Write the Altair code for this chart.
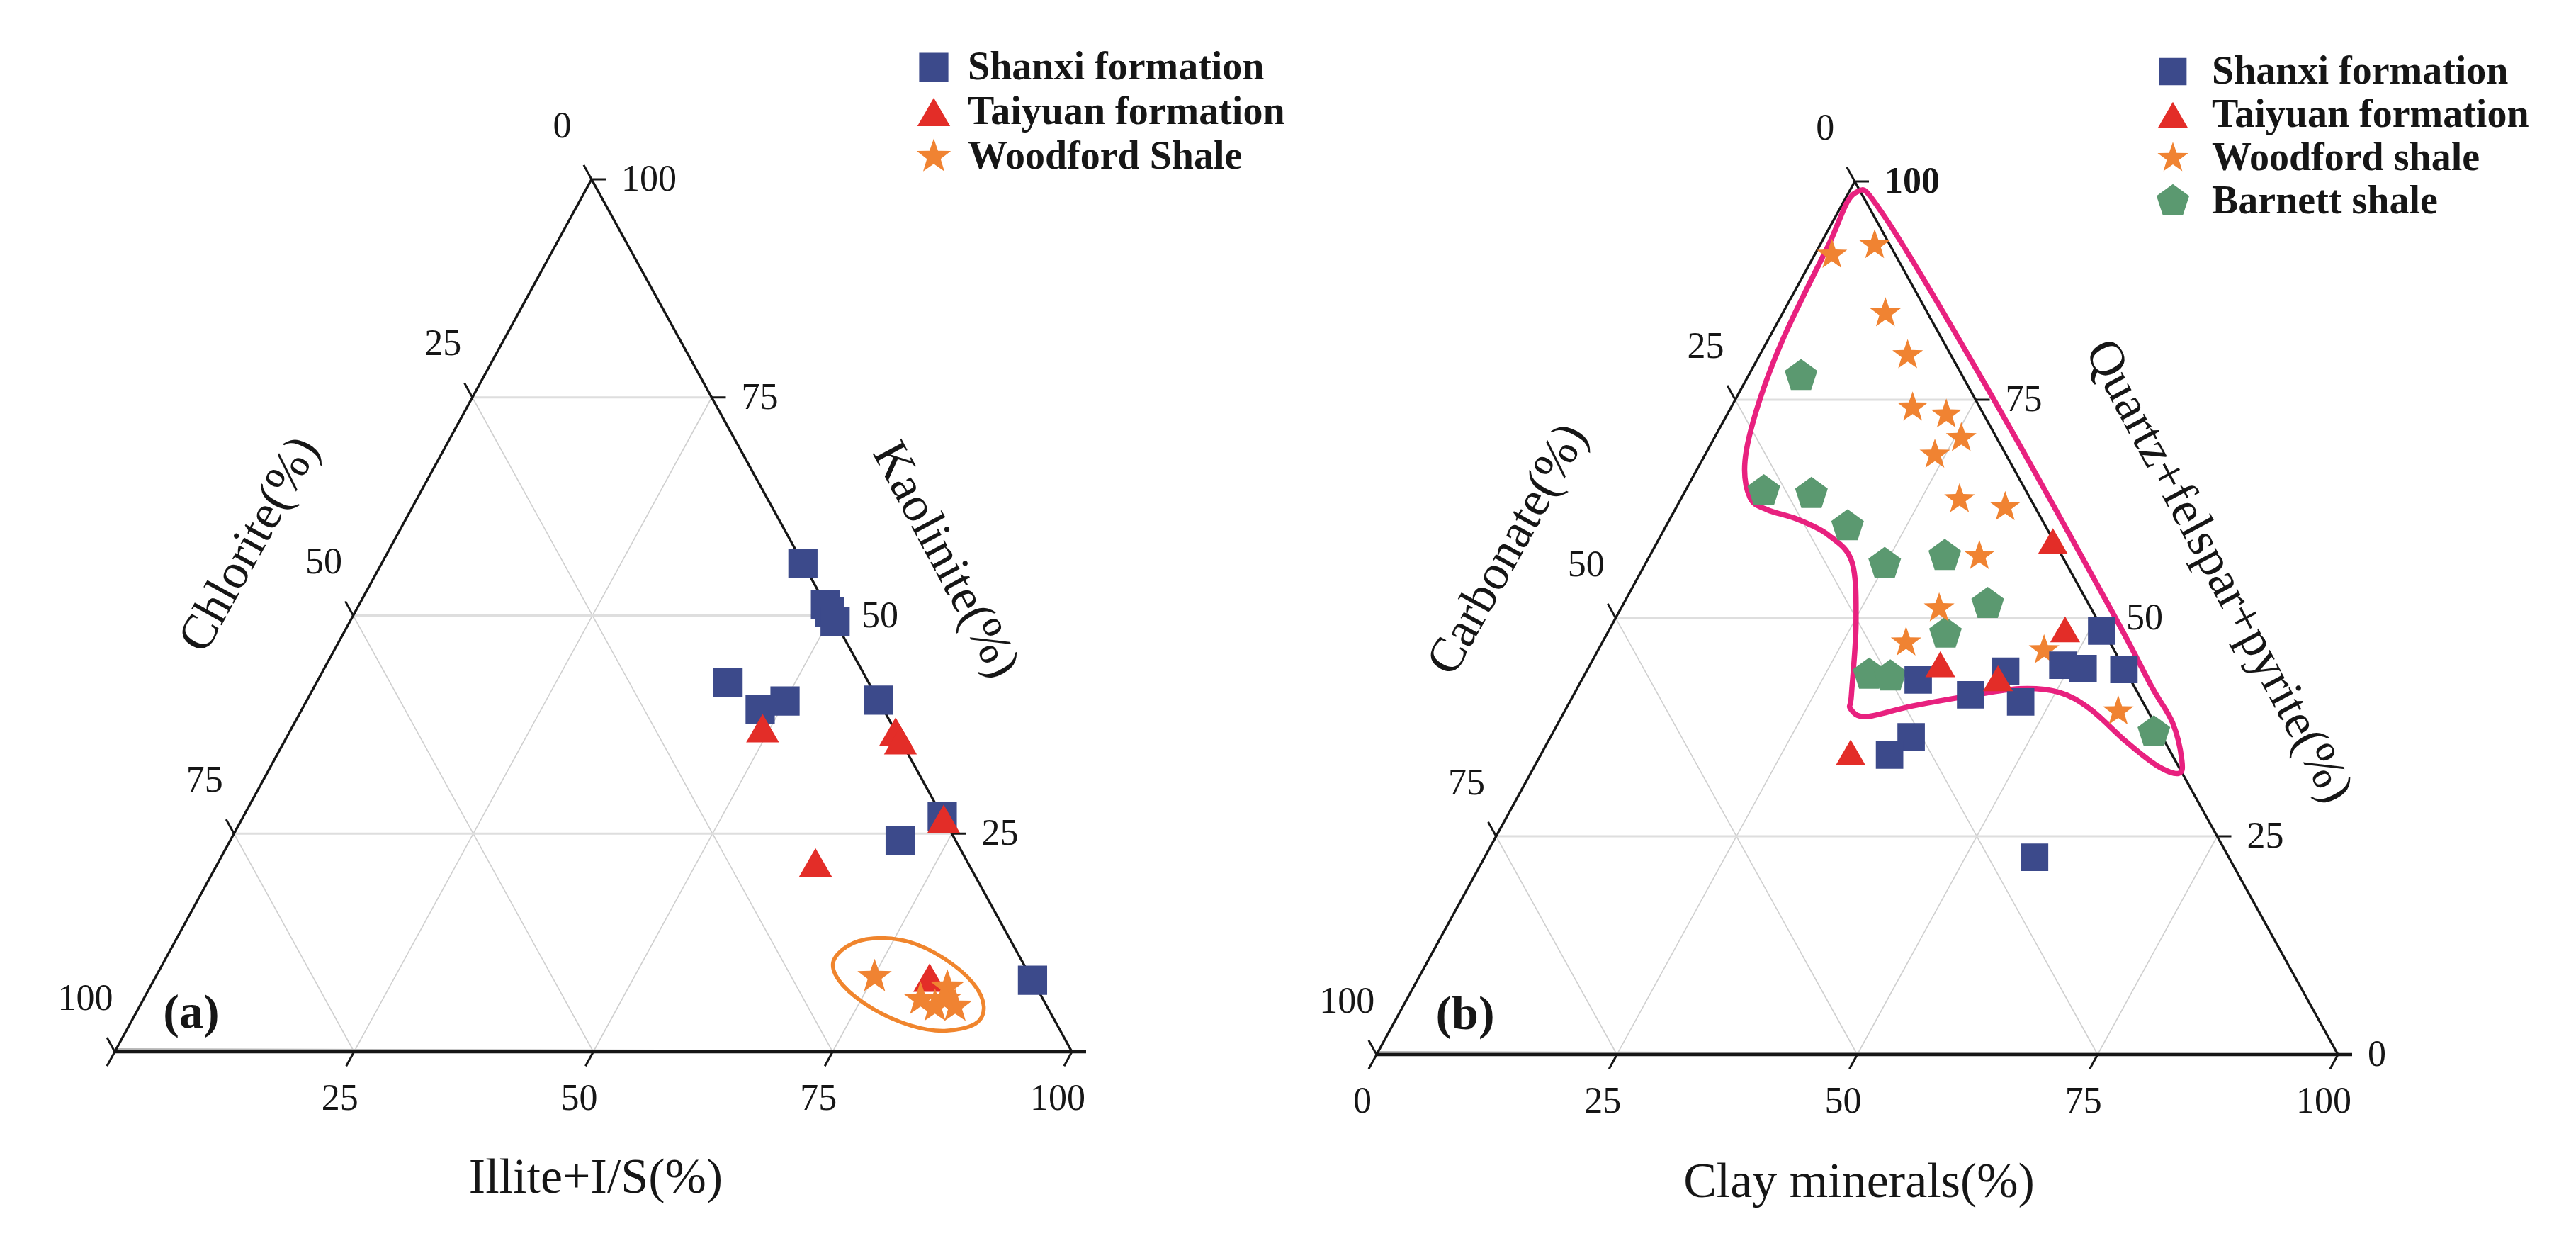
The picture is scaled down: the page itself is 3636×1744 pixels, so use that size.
import math
import altair as alt
import pandas as pd

# ---------------------------------------------------------------------------
# DATA (percentages)
# Panel (a): Kaolinite (apex) / Illite+I/S (bottom-right) / Chlorite (bottom-left)
a_series = ["Shanxi formation", "Taiyuan formation", "Woodford Shale"]

a_shanxi_kaolinite = [56.0, 51.3, 50.4, 49.3, 42.3, 39.2, 40.2, 40.3, 27.0, 24.2, 8.2]
a_shanxi_illite    = [44.0, 48.7, 49.6, 50.7, 43.0, 47.9, 50.0, 59.7, 73.0, 70.0, 91.8]
a_shanxi_chlorite  = [0.0, 0.0, 0.0, 0.0, 14.7, 12.9, 9.8, 0.0, 0.0, 5.8, 0.0]

a_taiyuan_kaolinite = [37.1, 36.7, 35.7, 26.7, 21.7, 8.5]
a_taiyuan_illite    = [49.2, 63.3, 64.3, 73.3, 62.4, 80.9]
a_taiyuan_chlorite  = [13.7, 0.0, 0.0, 0.0, 15.9, 10.6]

a_woodford_kaolinite = [8.6, 6.0, 5.2, 7.4, 5.2, 6.0]
a_woodford_illite    = [75.1, 81.2, 83.1, 83.3, 85.2, 83.7]
a_woodford_chlorite  = [16.3, 12.8, 11.7, 9.3, 9.6, 10.3]

# orange outline around the Woodford samples (a)
a_ring_kaolinite = [10.1, 12.1, 13.0, 12.6, 10.7, 7.9, 5.2, 3.2, 2.4, 3.0, 4.9, 7.6]
a_ring_illite    = [70.0, 70.5, 72.8, 76.7, 81.3, 85.7, 88.2, 88.3, 85.5, 81.7, 76.8, 72.3]
a_ring_chlorite  = [19.9, 17.4, 14.2, 10.7, 8.0, 6.4, 6.6, 8.5, 12.1, 15.3, 18.3, 20.1]

# Panel (b): Quartz+felspar+pyrite (apex) / Clay minerals (bottom-right) / Carbonate (bottom-left)
b_series = ["Shanxi formation", "Taiyuan formation", "Woodford shale", "Barnett shale"]

b_shanxi_quartz = [48.5, 44.6, 44.2, 44.1, 42.9, 43.9, 41.2, 40.4, 36.4, 34.3, 22.6]
b_shanxi_clay   = [51.3, 49.2, 51.5, 55.8, 35.0, 43.6, 41.3, 46.9, 37.5, 36.3, 57.2]
b_shanxi_carb   = [0.2, 6.2, 4.3, 0.1, 22.1, 12.5, 17.5, 12.7, 26.1, 29.4, 20.2]

b_taiyuan_quartz = [58.8, 48.7, 44.7, 43.1, 34.6]
b_taiyuan_clay   = [41.1, 47.4, 36.4, 43.2, 32.1]
b_taiyuan_carb   = [0.1, 3.9, 18.9, 13.7, 33.3]

b_woodford_quartz = [91.6, 92.7, 84.9, 80.1, 74.1, 73.3, 70.6, 68.7, 63.6, 62.7, 57.1, 51.1, 47.2, 46.3, 39.3]
b_woodford_clay   = [1.8, 5.7, 10.7, 15.4, 18.9, 22.8, 25.7, 23.9, 29.0, 34.2, 34.3, 33.1, 31.6, 46.4, 57.6]
b_woodford_carb   = [6.6, 1.6, 4.4, 4.5, 7.0, 3.9, 3.7, 7.4, 7.4, 3.1, 8.6, 15.8, 21.2, 7.3, 3.1]

b_barnett_quartz = [77.7, 64.5, 64.2, 60.5, 56.2, 57.1, 51.6, 48.2, 43.5, 43.3, 36.9]
b_barnett_clay   = [5.5, 8.2, 13.3, 18.9, 24.9, 30.7, 37.9, 35.2, 29.6, 31.9, 62.5]
b_barnett_carb   = [16.8, 27.3, 22.5, 20.6, 18.9, 12.2, 10.5, 16.6, 26.9, 24.8, 0.6]

# pink outline (b)
b_ring_quartz = [98.7, 95.8, 75.7, 50.8, 42.3, 38.0, 33.7, 32.2, 33.1, 35.8, 39.6, 41.5, 41.9, 41.1,
                 39.9, 38.7, 39.6, 41.2, 49.4, 56.4, 59.5, 61.3, 62.4, 63.8, 68.0, 74.3, 82.1, 92.6]
b_ring_clay   = [0.7, 5.3, 26.2, 51.2, 59.5, 63.9, 67.0, 67.4, 64.7, 60.2, 54.5, 50.3, 46.0, 41.3,
                 35.8, 31.7, 29.6, 28.9, 25.3, 21.4, 17.4, 13.3, 9.6, 7.1, 4.5, 2.7, 1.5, 0.9]
b_ring_carb   = [0.6, -1.1, -1.9, -2.0, -1.8, -1.9, -0.7, 0.4, 2.2, 4.0, 5.9, 8.2, 12.1, 17.6,
                 24.3, 29.6, 30.8, 29.9, 25.3, 22.2, 23.1, 25.4, 28.0, 29.1, 27.5, 23.0, 16.4, 6.5]

tick_values = [0, 25, 50, 75, 100]

# ---------------------------------------------------------------------------
# LAYOUT
FONT = "Liberation Serif"
INK = "#161616"
VERT_A = {"T": (835, 253), "L": (162, 1484), "R": (1513, 1484)}
VERT_B = {"T": (2618, 256), "L": (1943, 1488), "R": (3300, 1488)}

COL = {"Shanxi formation": "#3c4a8b", "Taiyuan formation": "#e32d28",
       "Woodford Shale": "#f08332", "Woodford shale": "#f08332", "Barnett shale": "#5b9970"}
STAR = ("M0,-1 L0.235,-0.324 L0.951,-0.309 L0.380,0.124 L0.588,0.809 L0,0.4 "
        "L-0.588,0.809 L-0.380,0.124 L-0.951,-0.309 L-0.235,-0.324 Z")
PENT = "M0,-1 L0.951,-0.309 L0.588,0.809 L-0.588,0.809 L-0.951,-0.309 Z"

XS = alt.Scale(domain=[8, 3628], nice=False, zero=False)
YS = alt.Scale(domain=[8, 1736], nice=False, zero=False, reverse=True)


def proj(top, right, left, V):
    s = top + right + left
    x = (top * V["T"][0] + right * V["R"][0] + left * V["L"][0]) / s
    y = (top * V["T"][1] + right * V["R"][1] + left * V["L"][1]) / s
    return x, y


def unit(a, b):
    dx, dy = b[0] - a[0], b[1] - a[1]
    n = math.hypot(dx, dy)
    return dx / n, dy / n


def xy():
    return dict(x=alt.X("x:Q", scale=XS, axis=None), y=alt.Y("y:Q", scale=YS, axis=None))


def seg_enc():
    return dict(x=alt.X("x:Q", scale=XS, axis=None), y=alt.Y("y:Q", scale=YS, axis=None),
                x2=alt.X2("x2:Q"), y2=alt.Y2("y2:Q"))


def frame_points(field, name, tops, rights, lefts, V):
    rows = []
    for t, r, l in zip(tops, rights, lefts):
        x, y = proj(t, r, l, V)
        rows.append({field: name, "x": x, "y": y})
    return rows


def frame_ring(tops, rights, lefts, V):
    rows = []
    for i, (t, r, l) in enumerate(zip(tops, rights, lefts)):
        x, y = proj(t, r, l, V)
        rows.append({"i": i, "x": x, "y": y})
    return pd.DataFrame(rows)


hgrid, dgrid, edges, ticks = [], [], [], []
lab_left, lab_right, lab_bottom = [], [], []


def build_frame(V, left_labels, right_labels, bottom_labels):
    T, L, R = V["T"], V["L"], V["R"]
    for v in [25, 50, 75]:
        a = proj(v, 0, 100 - v, V); b = proj(v, 100 - v, 0, V)
        hgrid.append({"x": a[0], "y": a[1], "x2": b[0], "y2": b[1]})
        a = proj(0, v, 100 - v, V); b = proj(100 - v, v, 0, V)
        dgrid.append({"x": a[0], "y": a[1], "x2": b[0], "y2": b[1]})
        a = proj(0, 100 - v, v, V); b = proj(100 - v, 0, v, V)
        dgrid.append({"x": a[0], "y": a[1], "x2": b[0], "y2": b[1]})
    edges.append({"x": L[0], "y": L[1], "x2": T[0], "y2": T[1]})
    edges.append({"x": T[0], "y": T[1], "x2": R[0], "y2": R[1]})
    ul = unit(R, T)   # left-axis tick direction
    ub = unit(T, L)   # bottom-axis tick direction
    for v in tick_values:
        p = proj(100 - v, 0, v, V)
        ticks.append({"x": p[0], "y": p[1], "x2": p[0] + ul[0] * 23, "y2": p[1] + ul[1] * 23})
        if v in left_labels:
            lab_left.append({"x": p[0] + ul[0] * 86, "y": p[1] + ul[1] * 86, "label": str(v)})
        p = proj(v, 100 - v, 0, V)
        ticks.append({"x": p[0], "y": p[1], "x2": p[0] + 20, "y2": p[1]})
        if v in right_labels:
            lab_right.append({"x": p[0] + 42, "y": p[1], "label": str(v),
                              "bold": 1 if (v == 100 and V is VERT_B) else 0})
        p = proj(0, v, 100 - v, V)
        ticks.append({"x": p[0], "y": p[1], "x2": p[0] + ub[0] * 23, "y2": p[1] + ub[1] * 23})
        if v in bottom_labels:
            lab_bottom.append({"x": p[0] - 20, "y": p[1] + 66, "label": str(v)})


build_frame(VERT_A, [0, 25, 50, 75, 100], [25, 50, 75, 100], [25, 50, 75, 100])
build_frame(VERT_B, [0, 25, 50, 75, 100], [0, 25, 50, 75, 100], [0, 25, 50, 75, 100])

bases = pd.DataFrame([
    {"x": VERT_A["L"][0], "y": VERT_A["L"][1], "x2": VERT_A["R"][0] + 20, "y2": VERT_A["R"][1]},
    {"x": VERT_B["L"][0], "y": VERT_B["L"][1], "x2": VERT_B["R"][0] + 20, "y2": VERT_B["R"][1]},
])

pts_a = pd.DataFrame(
    frame_points("series_a", a_series[0], a_shanxi_kaolinite, a_shanxi_illite, a_shanxi_chlorite, VERT_A)
    + frame_points("series_a", a_series[1], a_taiyuan_kaolinite, a_taiyuan_illite, a_taiyuan_chlorite, VERT_A)
    + frame_points("series_a", a_series[2], a_woodford_kaolinite, a_woodford_illite, a_woodford_chlorite, VERT_A)
)
pts_b = pd.DataFrame(
    frame_points("series_b", b_series[3], b_barnett_quartz, b_barnett_clay, b_barnett_carb, VERT_B)
    + frame_points("series_b", b_series[2], b_woodford_quartz, b_woodford_clay, b_woodford_carb, VERT_B)
    + frame_points("series_b", b_series[0], b_shanxi_quartz, b_shanxi_clay, b_shanxi_carb, VERT_B)
    + frame_points("series_b", b_series[1], b_taiyuan_quartz, b_taiyuan_clay, b_taiyuan_carb, VERT_B)
)
ring_a = frame_ring(a_ring_kaolinite, a_ring_illite, a_ring_chlorite, VERT_A)
ring_b = frame_ring(b_ring_quartz, b_ring_clay, b_ring_carb, VERT_B)


def legend(lx, ly, lo, rp):
    return alt.Legend(orient="none", legendX=lx, legendY=ly, title=None, padding=0,
                      labelFont=FONT, labelFontSize=56, labelFontWeight="bold", labelColor=INK,
                      labelOffset=lo, rowPadding=rp, labelLimit=2000, symbolStrokeWidth=0)


leg_a = legend(1282, 59, 20, 7)
leg_b = legend(3031, 65, 27, 5)

layers = []
layers.append(alt.Chart(pd.DataFrame(dgrid)).mark_rule(color="#cfcfcf", strokeWidth=1.6).encode(**seg_enc()))
layers.append(alt.Chart(pd.DataFrame(hgrid)).mark_rule(color="#dedede", strokeWidth=3).encode(**seg_enc()))
layers.append(alt.Chart(bases).mark_rule(color="#b5b5b5", strokeWidth=3, yOffset=-3.5).encode(**seg_enc()))
layers.append(alt.Chart(bases).mark_rule(color=INK, strokeWidth=4.5).encode(**seg_enc()))
layers.append(alt.Chart(pd.DataFrame(edges)).mark_rule(color=INK, strokeWidth=3.4).encode(**seg_enc()))
layers.append(alt.Chart(pd.DataFrame(ticks)).mark_rule(color=INK, strokeWidth=3).encode(**seg_enc()))
layers.append(alt.Chart(ring_a).mark_line(interpolate="cardinal-closed", color="#f0852d", strokeWidth=5.5)
              .encode(order=alt.Order("i:Q"), **xy()))
layers.append(alt.Chart(ring_b).mark_line(interpolate="cardinal-closed", color="#e8217f", strokeWidth=7.5)
              .encode(order=alt.Order("i:Q"), **xy()))

layers.append(
    alt.Chart(pts_a).mark_point(filled=True, opacity=1, strokeWidth=0).encode(
        color=alt.Color("series_a:N", scale=alt.Scale(domain=a_series, range=[COL[s] for s in a_series]), legend=leg_a),
        shape=alt.Shape("series_a:N", scale=alt.Scale(domain=a_series, range=["square", "triangle-up", STAR]), legend=leg_a),
        size=alt.Size("series_a:N", scale=alt.Scale(domain=a_series, range=[1700, 2600, 1900]), legend=leg_a),
        **xy())
)
layers.append(
    alt.Chart(pts_b).mark_point(filled=True, opacity=1, strokeWidth=0).encode(
        color=alt.Color("series_b:N", scale=alt.Scale(domain=b_series, range=[COL[s] for s in b_series]), legend=leg_b),
        shape=alt.Shape("series_b:N", scale=alt.Scale(domain=b_series, range=["square", "triangle-up", STAR, PENT]), legend=leg_b),
        size=alt.Size("series_b:N", scale=alt.Scale(domain=b_series, range=[1500, 2350, 1700, 1400]), legend=leg_b),
        **xy())
)

txt = dict(font=FONT, color=INK, baseline="middle")
layers.append(alt.Chart(pd.DataFrame(lab_left)).mark_text(fontSize=52, align="center", **txt)
              .encode(text="label:N", **xy()))
lr = pd.DataFrame(lab_right)
layers.append(alt.Chart(lr[lr.bold == 0]).mark_text(fontSize=52, align="left", **txt)
              .encode(text="label:N", **xy()))
layers.append(alt.Chart(lr[lr.bold == 1]).mark_text(fontSize=52, align="left", fontWeight="bold", **txt)
              .encode(text="label:N", **xy()))
layers.append(alt.Chart(pd.DataFrame(lab_bottom)).mark_text(fontSize=52, align="center", **txt)
              .encode(text="label:N", **xy()))

titles_left = pd.DataFrame([{"x": 352, "y": 768, "label": "Chlorite(%)"},
                            {"x": 2128, "y": 775, "label": "Carbonate(%)"}])
titles_right = pd.DataFrame([{"x": 1335, "y": 790, "label": "Kaolinite(%)"},
                             {"x": 3132, "y": 806, "label": "Quartz+felspar+pyrite(%)"}])
titles_bottom = pd.DataFrame([{"x": 841, "y": 1662, "label": "Illite+I/S(%)"},
                              {"x": 2624, "y": 1668, "label": "Clay minerals(%)"}])
panel_tags = pd.DataFrame([{"x": 270, "y": 1430, "label": "(a)"},
                           {"x": 2068, "y": 1432, "label": "(b)"}])

layers.append(alt.Chart(titles_left).mark_text(fontSize=70, align="center", angle=299, **txt)
              .encode(text="label:N", **xy()))
layers.append(alt.Chart(titles_right).mark_text(fontSize=70, align="center", angle=62, **txt)
              .encode(text="label:N", **xy()))
layers.append(alt.Chart(titles_bottom).mark_text(fontSize=70, align="center", **txt)
              .encode(text="label:N", **xy()))
layers.append(alt.Chart(panel_tags).mark_text(fontSize=68, align="center", fontWeight="bold", **txt)
              .encode(text="label:N", **xy()))

chart = (
    alt.layer(*layers)
    .resolve_scale(color="independent", shape="independent", size="independent")
    .properties(width=3620, height=1728, padding=0,
                autosize=alt.AutoSizeParams(type="none"), background="white")
    .configure_view(stroke=None)
)

chart.save("out.html", embed_options={"renderer": "svg", "actions": False})
